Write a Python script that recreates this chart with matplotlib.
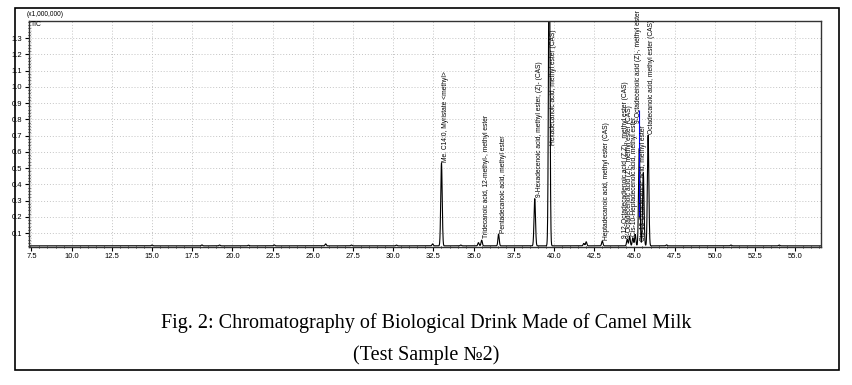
import numpy as np
import matplotlib
matplotlib.use("Agg")
import matplotlib.pyplot as plt
from matplotlib.ticker import MultipleLocator, FormatStrFormatter
from matplotlib.patches import Rectangle

# peak table (retention time, height above baseline)
rt = [15.0, 18.1, 19.2, 21.0, 22.6, 25.8, 27.4, 30.2, 32.45, 33.0, 34.2, 35.3, 35.5,
      36.55, 38.8, 39.7, 41.85, 42.0, 43.0,
      44.55, 44.7, 44.9, 45.05, 45.3, 45.55, 45.85, 47.0, 51.0, 54.0]
height = [0.005, 0.006, 0.005, 0.004, 0.006, 0.012, 0.005, 0.005, 0.012, 0.51, 0.005,
          0.02, 0.035, 0.073, 0.29, 2.0, 0.015, 0.025, 0.03,
          0.04, 0.06, 0.05, 0.07, 0.6, 0.45, 0.68, 0.006, 0.005, 0.005]
baseline = 0.022

# peak labels: text, x, y of label start
lab_text = ["Me. C14:0, Myristate <methyl>",
            "Tridecanoic acid, 12-methyl-, methyl ester",
            "Pentadecanoic acid, methyl ester",
            "9-Hexadecenoic acid, methyl ester, (Z)- (CAS)",
            "Hexadecanoic acid, methyl ester (CAS)",
            "Heptadecanoic acid, methyl ester (CAS)",
            "9,12-Octadecadienoic acid (Z,Z)-, methyl ester (CAS)",
            "9-Octadecenoic acid (Z)-, methyl ester (CAS)",
            "Cis-10-Heptadecenoic acid, methyl ester",
            "9-Octadecenoic acid (Z)-, methyl ester",
            "Cis-13-Octadecenoic acid, methyl ester",
            "Octadecanoic acid, methyl ester (CAS)"]
lab_x = [33.28, 35.78, 36.83, 39.08, 39.98, 43.28, 44.45, 44.72, 44.98, 45.28, 45.55, 46.05]
lab_y = [0.54, 0.07, 0.10, 0.32, 0.64, 0.06, 0.07, 0.07, 0.08, 0.78, 0.05, 0.71]

x = np.linspace(7.35, 56.6, 8000)
y = np.full_like(x, baseline)
for c, h in zip(rt, height):
    w = 0.045 if h > 0.2 else 0.04
    y += h * np.exp(-0.5 * ((x - c) / w) ** 2)

fig = plt.figure(figsize=(8.52, 3.85), dpi=100)
fig.patches.append(Rectangle((15 / 852, 15 / 385), 824 / 852, 362 / 385,
                             transform=fig.transFigure, fill=False,
                             edgecolor="black", lw=1.2))

ax = fig.add_axes([29 / 852, 1 - 246.5 / 385, 792 / 852, 225.5 / 385])
ax.plot(x, y, color="black", lw=0.8)
ax.vlines(45.3, 0.2, 0.86, color="blue", lw=0.8)

for t, lx, ly in zip(lab_text, lab_x, lab_y):
    ax.text(lx, ly, t, rotation=90, ha="center", va="bottom",
            fontsize=4.8, family="Liberation Sans", clip_on=False)

ax.set_xlim(7.35, 56.6)
ax.set_ylim(0.018, 1.405)
ax.xaxis.set_minor_locator(MultipleLocator(0.5))
ax.yaxis.set_minor_locator(MultipleLocator(0.02))
ax.xaxis.set_major_formatter(FormatStrFormatter("%.1f"))
ax.yaxis.set_major_formatter(FormatStrFormatter("%.1f"))
ax.set_xticks(np.arange(7.5, 55.1, 2.5))
ax.set_yticks(np.arange(0.1, 1.31, 0.1))
ax.tick_params(which="major", length=3, width=0.8, labelsize=5.5, pad=2)
ax.tick_params(which="minor", length=2, width=0.6, direction="inout")
for lbl in ax.get_xticklabels() + ax.get_yticklabels():
    lbl.set_family(["Liberation Sans Narrow", "Liberation Sans"])
ax.grid(True, which="major", color="#c4c4c4", lw=0.7, linestyle=(0, (1, 2)))
for s in ax.spines.values():
    s.set_linewidth(1.0)
    s.set_color("#333333")

fig.text(27 / 852, 1 - 15 / 385, "(x1,000,000)", fontsize=4.8, va="center",
         family="Liberation Sans")
fig.text(31 / 852, 1 - 24 / 385, "TIC", fontsize=4.8, va="center",
         family="Liberation Sans")

fig.text(0.5, 1 - 323 / 385, "Fig. 2: Chromatography of Biological Drink Made of Camel Milk",
         ha="center", va="center", fontsize=14.5, family="Liberation Serif")
fig.text(0.5, 1 - 355 / 385, "(Test Sample №2)",
         ha="center", va="center", fontsize=14.5, family="Liberation Serif")

fig.savefig("out.png", dpi=100)
